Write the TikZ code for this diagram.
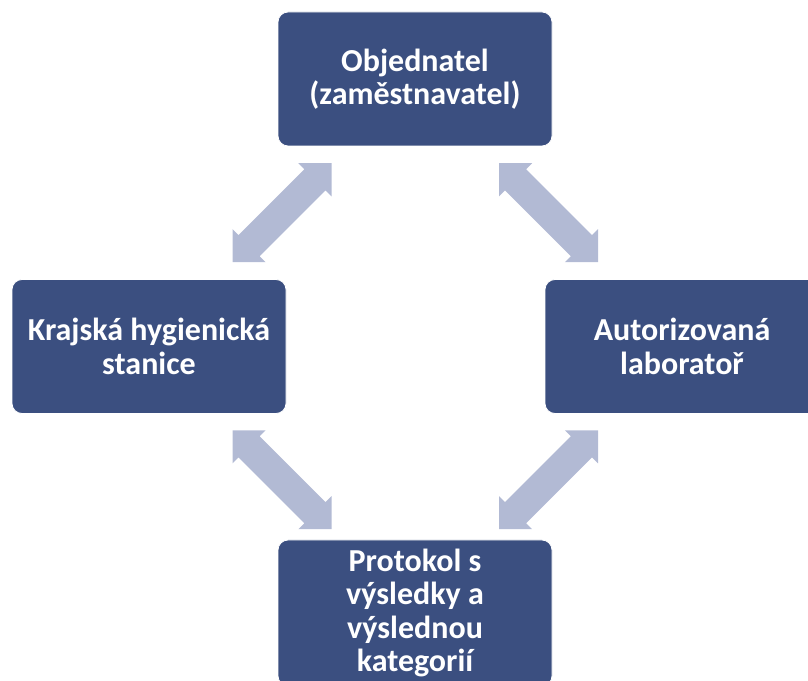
\documentclass[tikz,border=0pt]{standalone}
\usepackage{fontspec}
\setmainfont{Carlito}
\usetikzlibrary{calc}
\definecolor{boxblue}{RGB}{59,79,128}
\definecolor{arrowblue}{RGB}{178,186,212}
\tikzset{
    box/.style={rectangle, rounded corners=10pt, fill=boxblue, draw=white, line width=0.8pt,
        minimum width=274pt, minimum height=134pt, inner sep=0pt, text=white, align=center,
        font=\fontsize{32}{33.5}\selectfont\bfseries}, % modry blok
    dblarr/.pic={
        \fill[arrowblue] (-70,0) -- (-46.5,23.5) -- (-46.5,15) -- (46.5,15) -- (46.5,23.5)
            -- (70,0) -- (46.5,-23.5) -- (46.5,-15) -- (-46.5,-15) -- (-46.5,-23.5) -- cycle;
    } % obousmerna sipka
}
\begin{document}
\begin{tikzpicture}[x=1pt, y=1pt]
    \clip (0,0) rectangle (808,680);

    \node[box] (obj)  at (415,601)   {Objednatel\\(zaměstnavatel)};
    \node[box] (khs)  at (149,333.5) {Krajská hygienická\\stanice};
    \node[box] (lab)  at (682,333.5) {Autorizovaná\\laboratoř};
    \node[box, minimum height=146pt] (prot) at (415,67) {Protokol s\\výsledky a\\výslednou\\kategorií};

    \foreach \a/\b/\ang in {obj/khs/45, obj/lab/-45, prot/khs/-45, prot/lab/45} {
        \path ($(\a)!0.5!(\b)$) pic[rotate=\ang] {dblarr};
    }
\end{tikzpicture}
\end{document}
